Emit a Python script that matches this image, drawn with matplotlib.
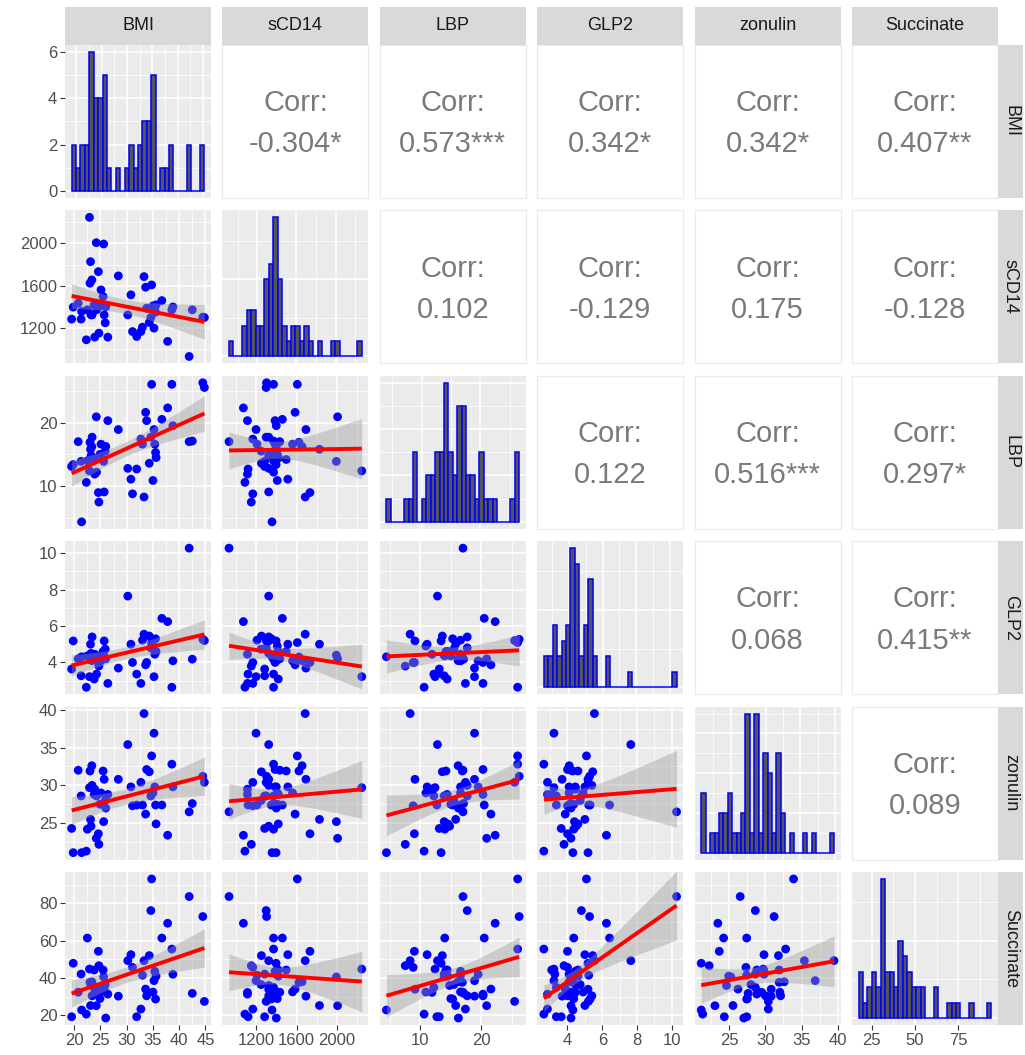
import numpy as np
import matplotlib
matplotlib.use("Agg")
import matplotlib.pyplot as plt
from matplotlib.patches import Rectangle
from matplotlib.ticker import FixedLocator, MaxNLocator

plt.rcParams['font.family'] = ['Liberation Sans', 'DejaVu Sans']

names = ["BMI", "sCD14", "LBP", "GLP2", "zonulin", "Succinate"]

bmi = [19.5, 19.8, 20.75, 21.3, 21.4, 22.3, 22.5, 22.9, 23.0, 23.1, 23.2, 23.4, 23.35, 23.8,
       23.9, 24.2, 24.25, 24.6, 24.7, 24.9, 25.1, 25.5, 25.6, 25.7, 25.9, 26.0, 26.4,
       28.4, 30.2, 30.8, 31.1, 31.9, 32.7, 33.0, 33.3, 33.6, 33.8, 34.3, 34.6, 34.75,
       35.0, 35.2, 35.35, 35.5, 35.6, 36.7, 37.8, 38.6, 38.8, 41.9, 42.5, 44.5, 44.8]
scd14 = [1285, 1398, 1435, 1285, 1358, 1090, 1373, 2245, 1624, 1827, 1325, 1325, 1655, 1420,
         1115, 2006, 1373, 1733, 1153, 1410, 1561, 1498, 1994, 1325, 1250, 1400, 1115,
         1693, 1325, 1514, 1168, 1121, 1168, 1209, 1686, 1586, 1388, 1253, 1300, 1608,
         1410, 1200, 1388, 1350, 1420, 1460, 1075, 1373, 1400, 933, 1373, 1304, 1300]
lbp = [13.1, 13.4, 17.0, 13.9, 4.4, 10.6, 14.0, 12.4, 16.9, 15.8, 14.8, 17.7, 16.2, 14.4,
       11.9, 20.9, 12.2, 9.0, 7.5, 15.0, 16.6, 14.2, 13.9, 9.1, 15.5, 16.25, 20.3,
       18.9, 12.8, 11.1, 8.8, 12.7, 17.4, 16.6, 8.3, 21.6, 20.3, 13.6, 17.7, 26.0,
       10.9, 18.9, 16.6, 15.3, 14.5, 20.5, 22.3, 26.0, 19.5, 17.0, 17.1, 26.25, 25.5]
glp2 = [3.64, 5.18, 4.2, 3.27, 4.31, 2.64, 4.36, 3.22, 4.3, 5.0, 4.5, 5.4, 4.1, 3.09,
        4.45, 4.2, 3.36, 4.0, 3.8, 4.36, 4.09, 4.6, 4.4, 5.18, 4.73, 4.2, 2.85,
        3.69, 7.64, 5.0, 4.0, 3.36, 2.85, 5.22, 5.55, 3.87, 4.0, 5.45, 4.8, 5.09,
        4.9, 3.22, 4.45, 5.3, 4.6, 6.42, 6.24, 2.64, 4.09, 10.27, 4.18, 5.27, 5.2]
zonulin = [24.3, 21.1, 32.0, 28.6, 21.1, 21.3, 24.2, 29.7, 31.9, 25.5, 24.6, 30.0, 32.6, 28.8,
           29.5, 23.0, 28.6, 23.6, 22.2, 27.5, 29.0, 31.9, 25.2, 30.8, 28.0, 27.0, 28.8,
           30.8, 35.4, 29.8, 27.3, 27.4, 30.4, 27.4, 39.5, 26.2, 32.1, 31.8, 28.6, 33.9,
           29.0, 36.9, 29.8, 27.4, 24.9, 27.4, 23.4, 32.8, 29.8, 26.5, 27.6, 31.2, 30.4]
succinate = [19.3, 47.9, 32.4, 42.1, 22.9, 20.7, 61.4, 44.8, 37.7, 25.3, 36.0, 30.5, 38.0, 44.3,
             32.3, 25.2, 35.0, 54.3, 46.6, 29.0, 32.6, 44.3, 40.6, 34.0, 36.5, 18.6, 31.4,
             30.3, 49.3, 52.5, 45.7, 19.3, 23.4, 41.5, 49.3, 34.1, 30.5, 52.0, 76.1, 93.0,
             32.5, 38.6, 43.6, 28.75, 41.0, 61.4, 69.3, 55.5, 42.0, 83.6, 31.8, 72.9, 27.5]

# correlation labels, upper triangle, row by row
corr_labels = [
    ["-0.304*", "0.573***", "0.342*", "0.342*", "0.407**"],
    ["0.102", "-0.129", "0.175", "-0.128"],
    ["0.122", "0.516***", "0.297*"],
    ["0.068", "0.415**"],
    ["0.089"],
]

# axis breaks for each variable (scatter axes) and for the diagonal histograms
breaks = [[20, 25, 30, 35, 40, 45], [1200, 1600, 2000], [10, 20],
          [4, 6, 8, 10], [25, 30, 35, 40], [20, 40, 60, 80]]
hist_breaks = [[20, 25, 30, 35, 40, 45], [1200, 1600, 2000], [10, 20],
               [4, 6, 8, 10], [25, 30, 35, 40], [25, 50, 75]]

data = [np.array(v, dtype=float) for v in (bmi, scd14, lbp, glp2, zonulin, succinate)]
n = len(bmi)
T_CRIT = 2.008  # t(0.975, df = n - 2)

W, H = 1025, 1055
fig = plt.figure(figsize=(W / 100, H / 100), dpi=100)
fig.patch.set_facecolor("white")

col_left = [65 + 157.4 * j for j in range(6)]
row_top = [45 + 165.4 * i for i in range(6)]
pw, ph = 146, 153

PANEL_BG = "#ebebeb"
STRIP_BG = "#d9d9d9"
TICK_COL = "#4d4d4d"
CORR_COL = "#7a7a7a"


def minor_from(major, lo, hi):
    step = major[1] - major[0] if len(major) > 1 else major[0]
    m = np.arange(major[0] - step / 2, hi + step, step)
    return [v for v in m if lo <= v <= hi]


def expand(lo, hi, f=0.05):
    r = hi - lo
    return lo - f * r, hi + f * r


def style_panel(ax, xb, yb):
    ax.set_facecolor(PANEL_BG)
    for s in ax.spines.values():
        s.set_visible(False)
    x0, x1 = ax.get_xlim()
    y0, y1 = ax.get_ylim()
    xb = [b for b in xb if x0 <= b <= x1]
    yb = [b for b in yb if y0 <= b <= y1]
    ax.xaxis.set_major_locator(FixedLocator(xb))
    ax.yaxis.set_major_locator(FixedLocator(yb))
    ax.xaxis.set_minor_locator(FixedLocator(minor_from(xb, x0, x1)))
    ax.yaxis.set_minor_locator(FixedLocator(minor_from(yb, y0, y1)))
    ax.grid(which="major", color="white", lw=1.1)
    ax.grid(which="minor", color="white", lw=0.55)
    ax.set_axisbelow(True)
    ax.tick_params(which="both", length=0, labelbottom=False, labelleft=False)
    ax.tick_params(which="major", colors="#333333", width=0.8,
                   labelcolor=TICK_COL, labelsize=12, pad=2)


def hist_edges(x, bins=30):
    # 30 bins, first centred on the minimum and last on the maximum
    lo, hi = x.min(), x.max()
    w = (hi - lo) / (bins - 1)
    return lo - w / 2 + w * np.arange(bins + 1)


for i in range(6):
    for j in range(6):
        left = col_left[j] / W
        bottom = 1 - (row_top[i] + ph) / H
        ax = fig.add_axes([left, bottom, pw / W, ph / H])
        x = data[j]
        y = data[i]
        if i < j:
            # correlation text panel
            ax.set_facecolor("white")
            ax.set_xticks([])
            ax.set_yticks([])
            for s in ax.spines.values():
                s.set_color("#ebebeb")
                s.set_linewidth(0.9)
            lab = corr_labels[i][j - i - 1]
            ax.text(0.5, 0.62, "Corr:", transform=ax.transAxes, ha="center",
                    va="center", fontsize=21, color=CORR_COL)
            ax.text(0.5, 0.35, lab, transform=ax.transAxes, ha="center",
                    va="center", fontsize=21, color=CORR_COL)
        elif i == j:
            edges = hist_edges(x)
            counts, _ = np.histogram(x, bins=edges)
            ax.bar(edges[:-1], counts, width=np.diff(edges), align="edge",
                   color="#555555", edgecolor="blue", linewidth=1.1, zorder=2)
            ax.set_xlim(*expand(edges[0], edges[-1]))
            ax.set_ylim(*expand(0, counts.max()))
            cb = MaxNLocator(nbins=4, integer=True, steps=[1, 2, 5, 10]).tick_values(0, counts.max())
            style_panel(ax, hist_breaks[j], list(cb))
        else:
            ax.scatter(x, y, s=40, color="blue", edgecolors="none", zorder=2)
            b1, b0 = np.polyfit(x, y, 1)
            xs = np.linspace(x.min(), x.max(), 80)
            fit = b0 + b1 * xs
            resid = y - (b0 + b1 * x)
            s_err = np.sqrt(np.sum(resid ** 2) / (n - 2))
            sxx = np.sum((x - x.mean()) ** 2)
            se = s_err * np.sqrt(1 / n + (xs - x.mean()) ** 2 / sxx)
            ax.fill_between(xs, fit - T_CRIT * se, fit + T_CRIT * se,
                            color="#999999", alpha=0.4, lw=0, zorder=3)
            ax.plot(xs, fit, color="red", lw=2.8, zorder=4, solid_capstyle="butt")
            ax.set_xlim(*expand(x.min(), x.max()))
            ax.set_ylim(*expand(y.min(), y.max()))
            style_panel(ax, breaks[j], breaks[i])

        if j == 0:
            ax.tick_params(axis="y", which="major", length=3.5, labelleft=True)
        if i == 5:
            ax.tick_params(axis="x", which="major", length=3.5, labelbottom=True)

# facet strips along the top and right edge
for j, name in enumerate(names):
    x0 = col_left[j] / W
    y0 = 1 - row_top[0] / H
    fig.patches.append(Rectangle((x0, y0), pw / W, 38 / H, transform=fig.transFigure,
                                 facecolor=STRIP_BG, edgecolor="none"))
    fig.text(x0 + pw / W / 2, y0 + 19 / H, name, ha="center", va="center",
             fontsize=13, color="#1a1a1a")

for i, name in enumerate(names):
    x0 = (col_left[5] + pw) / W
    y0 = 1 - (row_top[i] + ph) / H
    fig.patches.append(Rectangle((x0, y0), 25 / W, ph / H, transform=fig.transFigure,
                                 facecolor=STRIP_BG, edgecolor="none"))
    fig.text(x0 + 12.5 / W, y0 + ph / H / 2, name, ha="center", va="center",
             rotation=-90, fontsize=13, color="#1a1a1a")

fig.savefig("out.png", dpi=100)
